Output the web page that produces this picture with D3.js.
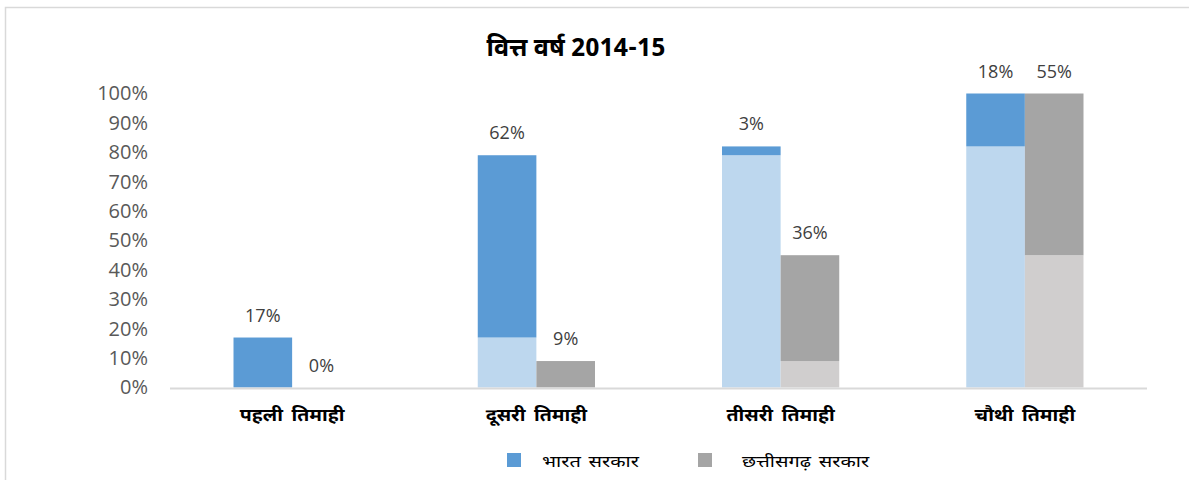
<!DOCTYPE html>
<html>
<head>
<meta charset="utf-8">
<script src="https://cdn.jsdelivr.net/npm/d3@7"></script>
<style>
  html, body { margin: 0; padding: 0; background: #fff; }
  svg { display: block; }
  .deva { font-family: "Noto Sans Devanagari", "Lohit Devanagari", "FreeSans", "Noto Sans", sans-serif; }
  .num { font-family: "Open Sans", "Noto Sans", sans-serif; }
</style>
</head>
<body>
<svg id="chart" width="1189" height="480"></svg>
<script>
// Quarterly release share for FY 2014-15, cumulative stacked per funding source
const categories = ['पहली तिमाही', 'दूसरी तिमाही', 'तीसरी तिमाही', 'चौथी तिमाही'];
const seriesNames = ['भारत सरकार', 'छत्तीसगढ़ सरकार'];
// share released before the quarter (cumulative, %)
const bharatPrior = [0, 17, 79, 82];
const cgPrior = [0, 0, 9, 45];
// share released during the quarter (%)
const bharatQuarter = [17, 62, 3, 18];
const cgQuarter = [0, 9, 36, 55];
const yTicks = [0, 10, 20, 30, 40, 50, 60, 70, 80, 90, 100];
const title = 'वित्त वर्ष 2014-15';

const svg = d3.select('#chart');

// chart frame
svg.append('path')
  .attr('d', 'M5.5,480 V7.5 H1189')
  .attr('fill', 'none')
  .attr('stroke', '#d9d9d9')
  .attr('stroke-width', 1.5);

const x = d3.scaleBand()
  .domain(categories)
  .range([170, 1147])
  .paddingInner(0.52)
  .paddingOuter(0.26);

const x1 = d3.scaleBand()
  .domain(['bharat', 'cg'])
  .range([0, x.bandwidth()]);

const y = d3.scaleLinear().domain([0, 100]).range([387.5, 93.5]);

// y axis labels
const yAxis = d3.axisLeft(y)
  .tickValues(yTicks)
  .tickFormat(d => d + '%')
  .tickSize(0)
  .tickPadding(0);
const gy = svg.append('g')
  .attr('transform', 'translate(148,0)')
  .call(yAxis);
gy.select('.domain').remove();
gy.selectAll('text')
  .attr('class', 'num')
  .attr('font-size', 20)
  .attr('fill', '#595959');

// stacked rows: prior (light) + quarter (dark)
const rows = categories.map((c, i) => ({
  cat: c,
  stacks: [
    { key: 'bharat', prior: bharatPrior[i], q: bharatQuarter[i], light: '#BDD7EE', dark: '#5B9BD5' },
    { key: 'cg', prior: cgPrior[i], q: cgQuarter[i], light: '#D0CECE', dark: '#A5A5A5' }
  ]
}));

const groups = svg.append('g').selectAll('g')
  .data(rows)
  .join('g')
  .attr('transform', d => `translate(${x(d.cat)},0)`);

const stacks = groups.selectAll('g')
  .data(d => d.stacks)
  .join('g')
  .attr('transform', d => `translate(${x1(d.key)},0)`);

stacks.append('rect')
  .attr('x', 0)
  .attr('width', x1.bandwidth())
  .attr('y', d => y(d.prior))
  .attr('height', d => y(0) - y(d.prior))
  .attr('fill', d => d.light);

stacks.append('rect')
  .attr('x', 0)
  .attr('width', x1.bandwidth())
  .attr('y', d => y(d.prior + d.q))
  .attr('height', d => y(d.prior) - y(d.prior + d.q))
  .attr('fill', d => d.dark);

stacks.append('text')
  .attr('class', 'num')
  .attr('x', x1.bandwidth() / 2)
  .attr('y', d => y(d.prior + d.q) - 16)
  .attr('text-anchor', 'middle')
  .attr('font-size', 18)
  .attr('fill', '#404040')
  .text(d => d.q + '%');

// category axis
svg.append('line')
  .attr('x1', 170).attr('x2', 1147)
  .attr('y1', 388.5).attr('y2', 388.5)
  .attr('stroke', '#d9d9d9')
  .attr('stroke-width', 2);

svg.append('g').selectAll('text')
  .data(categories)
  .join('text')
  .attr('class', 'deva')
  .attr('transform', d => `translate(${x(d) + x.bandwidth() / 2},421) scale(1.15,1)`)
  .attr('text-anchor', 'middle')
  .attr('font-size', 17)
  .attr('word-spacing', 3)
  .attr('font-weight', 'bold')
  .attr('fill', '#000')
  .text(d => d);

// title
svg.append('text')
  .attr('class', 'deva')
  .attr('x', 576)
  .attr('y', 56)
  .attr('text-anchor', 'middle')
  .attr('font-size', 25)
  .attr('font-weight', 'bold')
  .attr('fill', '#000')
  .text(title);

// legend
const legendColors = ['#5B9BD5', '#A5A5A5'];
const legendX = [507, 698];
const legend = svg.append('g').selectAll('g')
  .data(seriesNames)
  .join('g')
  .attr('transform', (d, i) => `translate(${legendX[i]},453)`);
legend.append('rect')
  .attr('width', 14).attr('height', 14)
  .attr('fill', (d, i) => legendColors[i]);
legend.append('text')
  .attr('class', 'deva')
  .attr('transform', (d, i) => `translate(${i === 0 ? 35 : 44},14) scale(1.25,1)`)
  .attr('font-size', 16)
  .attr('word-spacing', 2)
  .attr('fill', '#000')
  .text(d => d);
</script>
</body>
</html>
